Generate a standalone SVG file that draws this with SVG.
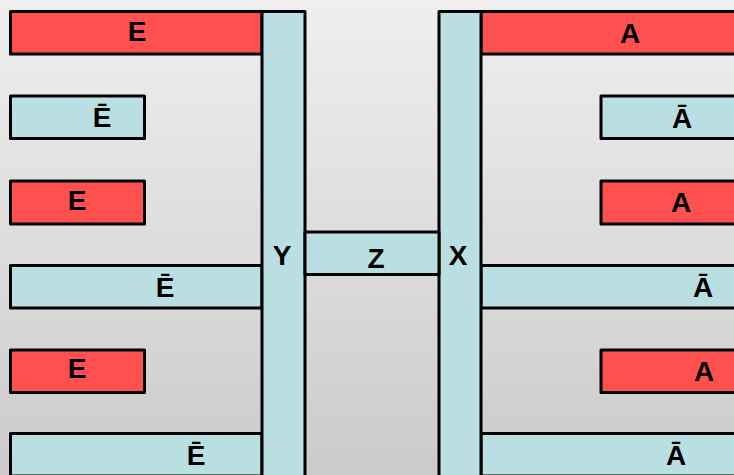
<svg xmlns="http://www.w3.org/2000/svg" width="734" height="475" viewBox="0 0 734 475">
  <defs>
    <linearGradient id="bg" x1="0" y1="0" x2="0" y2="1">
      <stop offset="0" stop-color="#efefef"/>
      <stop offset="1" stop-color="#cbcbcb"/>
    </linearGradient>
  </defs>
  <style>
    .box { stroke: #000; stroke-width: 3; stroke-linejoin: round; }
    .red { fill: #ff5050; }
    .blue { fill: #b9dfe2; }
    .lbl { font-family: "Liberation Sans", Arial, sans-serif; font-weight: bold; font-size: 28px; fill: #000; text-anchor: middle; }
  </style>
  <rect width="734" height="475" fill="url(#bg)"/>

  <!-- left side: bars attached to Y -->
  <g id="left-e1"><rect class="box red" x="10.5" y="11.5" width="251.5" height="42.5"/><text class="lbl" x="137" y="41">E</text></g>
  <g id="left-ebar1"><rect class="box blue" x="10.5" y="96" width="134" height="42.5"/><text class="lbl" x="102" y="127">Ē</text></g>
  <g id="left-e2"><rect class="box red" x="10.5" y="181" width="134" height="43"/><text class="lbl" x="77" y="210">E</text></g>
  <g id="left-ebar2"><rect class="box blue" x="10.5" y="265.5" width="251.5" height="42.5"/><text class="lbl" x="165" y="297">Ē</text></g>
  <g id="left-e3"><rect class="box red" x="10.5" y="350" width="134" height="42.5"/><text class="lbl" x="77" y="378">E</text></g>
  <g id="left-ebar3"><rect class="box blue" x="10.5" y="433.5" width="251.5" height="42.5"/><text class="lbl" x="196" y="465">Ē</text></g>

  <!-- right side: bars attached to X -->
  <g id="right-a1"><rect class="box red" x="481" y="11.5" width="262" height="42.5"/><text class="lbl" x="630" y="43">A</text></g>
  <g id="right-abar1"><rect class="box blue" x="601" y="96" width="142" height="42.5"/><text class="lbl" x="682" y="128">Ā</text></g>
  <g id="right-a2"><rect class="box red" x="601" y="181" width="142" height="43"/><text class="lbl" x="681" y="212">A</text></g>
  <g id="right-abar2"><rect class="box blue" x="481" y="265.5" width="262" height="42.5"/><text class="lbl" x="703" y="297">Ā</text></g>
  <g id="right-a3"><rect class="box red" x="601" y="350" width="142" height="42.5"/><text class="lbl" x="704" y="381">A</text></g>
  <g id="right-abar3"><rect class="box blue" x="481" y="433.5" width="262" height="42.5"/><text class="lbl" x="676" y="465">Ā</text></g>

  <!-- central spine -->
  <g id="node-y"><rect class="box blue" x="262" y="11.5" width="43" height="470"/><text class="lbl" x="282" y="265">Y</text></g>
  <g id="node-x"><rect class="box blue" x="439" y="11.5" width="42" height="470"/><text class="lbl" x="458" y="265">X</text></g>
  <g id="node-z"><rect class="box blue" x="305" y="232" width="134" height="42.5"/><text class="lbl" x="376" y="268">Z</text></g>

  <g id="connectors"></g>
</svg>
